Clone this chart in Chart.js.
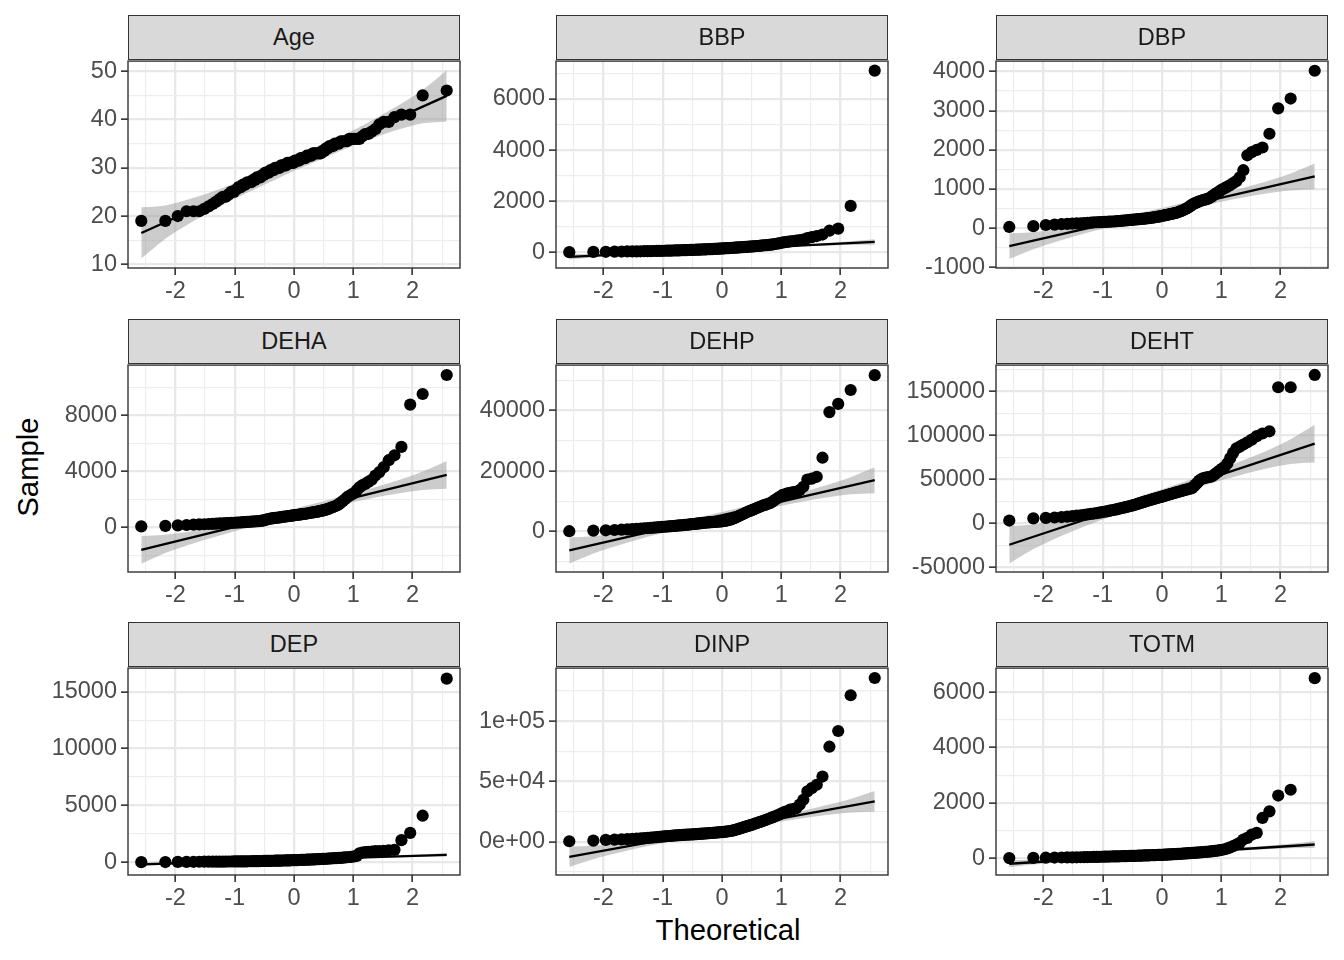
<!DOCTYPE html>
<html>
<head>
<meta charset="utf-8">
<script src="https://cdn.jsdelivr.net/npm/chart.js@4.4.1/dist/chart.umd.min.js"></script>
<style>
  body{margin:0;background:#fff;width:1344px;height:960px;position:relative;overflow:hidden;font-family:"Liberation Sans",Arial,sans-serif}
  canvas{position:absolute}
  .strip{position:absolute;box-sizing:border-box;background:#D9D9D9;border:1.3px solid #333;color:#1A1A1A;font-size:23.5px;text-align:center;line-height:43px;z-index:2}
  .ttl{position:absolute;font-size:29.3px;color:#000;white-space:nowrap}
</style>
</head>
<body>
<div class="ttl" style="left:28px;top:467px;transform:translate(-50%,-50%) rotate(-90deg)">Sample</div>
<div class="ttl" style="left:728px;top:930px;transform:translate(-50%,-50%)">Theoretical</div>
<script>
// ---------- data ----------
const theoretical = [
  -2.576,-2.170,-1.960,-1.812,-1.695,-1.598,-1.514,-1.440,-1.372,-1.311,
  -1.254,-1.200,-1.150,-1.103,-1.058,-1.015,-0.974,-0.935,-0.896,-0.860,
  -0.824,-0.789,-0.755,-0.722,-0.690,-0.659,-0.628,-0.598,-0.568,-0.539,
  -0.510,-0.482,-0.454,-0.426,-0.399,-0.372,-0.345,-0.319,-0.292,-0.266,
  -0.240,-0.215,-0.189,-0.164,-0.138,-0.113,-0.088,-0.063,-0.038,-0.013,
  0.013,0.038,0.063,0.088,0.113,0.138,0.164,0.189,0.215,0.240,
  0.266,0.292,0.319,0.345,0.372,0.399,0.426,0.454,0.482,0.510,
  0.539,0.568,0.598,0.628,0.659,0.690,0.722,0.755,0.789,0.824,
  0.860,0.896,0.935,0.974,1.015,1.058,1.103,1.150,1.200,1.254,
  1.311,1.372,1.440,1.514,1.598,1.695,1.812,1.960,2.170,2.576];
const bandX = [-2.576,-2.17,-1.96,-1.5,-1,-0.5,0,0.5,1,1.5,1.96,2.17,2.576];
const xTicks = [-2,-1,0,1,2];
const xMinor = [-2.5,-1.5,-0.5,0.5,1.5,2.5];

const ageSample = [
  19,19,20,21,21,21,21.5,22,22.5,23,
  23.5,24,24,24.5,25,25,25.5,26,26,26.5,
  26.5,27,27,27,27.5,27.5,28,28,28,28.5,
  28.5,29,29,29,29.5,29.5,29.5,30,30,30,
  30,30.5,30.5,30.5,30.5,31,31,31,31,31,
  31.5,31.5,31.5,31.5,32,32,32,32,32.5,32.5,
  32.5,32.5,33,33,33,33,33,33,33.5,33.5,
  34,34,34.5,34.5,34.5,35,35,35,35.5,35.5,
  35.5,35.5,36,36,36,36,36,36.5,37,37,
  37.5,38,39,39.5,39.5,40.5,41,41,45,46];
const ageLower = [11.2,15.3,17.0,20.4,23.6,26.5,29.4,32.0,34.6,36.9,38.6,39.2,39.6];
const ageUpper = [21.8,22.2,22.8,24.5,26.8,29.4,32.1,34.9,37.8,41.1,44.4,46.1,50.2];
const ageLine = [16.5,44.9];
const ageTicks = [10,20,30,40,50];
const ageMinor = [15,25,35,45];
const ageRange = [9.24,52.1];

const bbpSample = [
  10,20,25,30,35,38,40,42,45,48,
  50,52,55,58,60,62,65,68,70,72,
  75,78,80,82,85,88,90,92,95,98,
  100,102,105,108,110,112,115,118,120,122,
  125,128,130,133,136,140,143,146,150,153,
  156,160,163,166,170,174,178,182,186,190,
  194,198,202,206,210,215,220,225,230,235,
  240,246,252,258,265,272,280,288,296,305,
  315,330,345,360,380,400,415,430,445,460,
  480,500,560,600,640,700,850,930,1820,7110];
const bbpLower = [-278,-195,-160,-91,-26,35,93,148,200,247,283,294,303];
const bbpUpper = [-62,-53,-42,-6,41,93,148,206,267,332,401,436,519];
const bbpLine = [-170,411];
const bbpTicks = [0,2000,4000,6000];
const bbpMinor = [1000,3000,5000,7000];
const bbpRange = [-609,7482];

const dbpSample = [
  30,50,80,90,100,110,115,120,125,130,
  135,140,145,150,152,155,158,160,165,168,
  170,175,178,182,185,190,195,200,205,210,
  212,216,220,224,228,232,236,240,244,248,
  252,258,264,270,276,282,288,294,300,308,
  316,324,332,340,348,356,365,374,383,392,
  405,420,436,452,470,490,512,540,570,600,
  625,645,665,685,700,715,728,742,760,790,
  830,870,910,950,990,1020,1060,1100,1150,1200,
  1300,1480,1860,1940,2000,2060,2410,3060,3310,4020];
const dbpLower = [-790,-536,-428,-219,-17,169,346,515,675,819,928,964,992];
const dbpUpper = [-130,-102,-66,44,187,347,516,693,879,1080,1290,1398,1651];
const dbpLine = [-459,1322];
const dbpTicks = [-1000,0,1000,2000,3000,4000];
const dbpMinor = [-500,500,1500,2500,3500];
const dbpRange = [-1018,4266];

const dehaSample = [
  60,100,130,160,180,200,215,230,245,260,
  270,280,290,300,310,320,330,340,350,360,
  370,380,390,400,410,420,430,440,455,470,
  490,520,560,590,610,630,650,665,680,695,
  710,725,740,755,770,785,800,815,830,845,
  860,875,890,905,920,935,950,965,980,1000,
  1020,1040,1060,1080,1100,1120,1140,1165,1190,1220,
  1260,1300,1350,1400,1450,1500,1560,1640,1760,1880,
  2000,2150,2250,2350,2450,2650,2850,3000,3100,3250,
  3400,3700,3950,4300,4800,5150,5750,8780,9540,10900];
const dehaLower = [-2609,-1846,-1517,-888,-281,280,812,1321,1801,2236,2563,2672,2755];
const dehaUpper = [-619,-536,-427,-100,335,816,1324,1857,2417,3024,3653,3982,4745];
const dehaLine = [-1614,3750];
const dehaTicks = [0,4000,8000];
const dehaMinor = [-2000,2000,6000,10000];
const dehaRange = [-3205,11608];

const dehpSample = [
  100,300,400,500,600,700,800,900,1000,1080,
  1150,1220,1300,1380,1450,1520,1580,1640,1700,1760,
  1820,1880,1940,2000,2060,2120,2180,2240,2300,2360,
  2420,2480,2540,2600,2660,2720,2780,2840,2900,2960,
  3000,3040,3080,3120,3160,3200,3240,3280,3320,3360,
  3420,3500,3600,3700,3800,3950,4100,4300,4500,4700,
  4950,5200,5450,5700,5950,6200,6450,6700,6900,7100,
  7350,7600,7850,8100,8350,8600,8800,9000,9250,9500,
  10000,10500,11000,11500,12000,12300,12600,12800,13000,13100,
  13700,14800,17200,17500,18100,24400,39500,42200,46800,51700];
const dehpLower = [-10561,-7255,-5836,-3104,-480,1949,4253,6457,8536,10420,11836,12309,12665];
const dehpUpper = [-1941,-1585,-1112,304,2188,4267,6471,8775,11204,13828,16560,17979,21285];
const dehpLine = [-6250,16974];
const dehpTicks = [0,20000,40000];
const dehpMinor = [-10000,10000,30000,50000];
const dehpRange = [-13390,55030];

const dehtSample = [
  3000,5500,6000,6500,7000,7500,8000,8500,9000,9500,
  10000,10500,11000,11500,12000,12500,13000,13500,14000,14500,
  15000,15500,16000,16500,17000,17500,18000,18500,19000,19500,
  20000,20500,21000,21600,22200,22800,23400,24000,24500,25000,
  25500,26100,26600,27100,27600,28100,28600,29000,29500,30000,
  30500,31000,31500,32000,32500,33000,33500,34000,34500,35000,
  35500,36000,36500,37000,37500,38000,38500,39000,39500,40000,
  42000,44000,46000,48500,50000,51000,51500,52000,52500,53000,
  54000,56000,58000,60000,62000,64000,68000,74000,80000,85000,
  87000,89500,92000,95000,99000,102000,104500,154600,154600,168600];
const dehtLower = [-45840,-29480,-22450,-8920,4070,16100,27510,38420,48710,58040,65050,67400,69160];
const dehtUpper = [-3160,-1400,950,7960,17290,27580,38490,49900,61930,74920,88450,95480,111840];
const dehtLine = [-24500,90500];
const dehtTicks = [-50000,0,50000,100000,150000];
const dehtMinor = [-25000,25000,75000,125000,175000];
const dehtRange = [-55500,179800];

const depSample = [
  20,30,40,45,50,55,58,60,62,65,
  68,70,72,75,78,80,82,85,88,90,
  92,95,98,100,103,106,110,113,116,120,
  123,126,130,133,136,140,143,146,150,153,
  156,160,163,166,170,174,178,182,186,190,
  195,200,205,210,215,220,225,230,236,242,
  248,254,260,266,272,280,288,296,304,312,
  320,330,340,350,360,370,380,390,400,415,
  430,450,470,490,520,560,800,850,900,920,
  950,980,1000,1020,1050,1100,1950,2590,4100,16140];
const depLower = [-331,-212,-160,-61,34,122,205,285,360,428,480,496,509];
const depUpper = [-19,-6,10,62,130,205,285,368,456,551,650,702,821];
const depLine = [-175,665];
const depTicks = [0,5000,10000,15000];
const depMinor = [2500,7500,12500];
const depRange = [-1110,17070];

const dinpSample = [
  500,1000,1650,1900,2100,2300,2500,2700,2900,3100,
  3300,3500,3700,3900,4100,4400,4550,4700,4850,5000,
  5150,5300,5450,5550,5650,5750,5850,5950,6050,6100,
  6150,6250,6350,6450,6550,6650,6750,6850,6950,7050,
  7150,7250,7350,7450,7550,7650,7750,7850,7950,8050,
  8150,8300,8450,8600,8800,9000,9200,9500,9800,10200,
  10600,11000,11400,11800,12200,12600,13000,13400,13900,14300,
  14800,15300,15800,16300,16800,17300,17900,18500,19100,19800,
  20500,21200,22000,22800,23900,24800,25300,26700,27100,28000,
  30800,34900,41800,44500,47300,54100,78800,91800,121400,135700];
const dinpLower = [-20874,-14343,-11540,-6143,-958,3843,8394,12750,16856,20579,23376,24313,25014];
const dinpUpper = [-3844,-3143,-2206,591,4314,8421,12776,17328,22128,27313,32710,35513,42044];
const dinpLine = [-12360,33530];
const dinpTicks = [0,50000,100000];
const dinpTickLabels = ['0e+00','5e+04','1e+05'];
const dinpMinor = [-25000,25000,75000,125000];
const dinpRange = [-27430,143900];

const totmSample = [
  10,20,25,30,32,35,38,40,42,45,
  48,50,52,55,57,60,62,64,66,68,
  70,72,74,76,78,80,82,84,86,88,
  90,92,94,96,98,100,102,104,106,108,
  110,112,114,116,118,120,122,124,126,128,
  130,133,136,139,142,145,148,151,154,157,
  160,164,168,172,176,180,184,188,192,196,
  200,205,210,215,220,226,232,238,245,252,
  260,270,280,295,310,330,360,400,440,500,
  560,680,740,860,920,1460,1700,2270,2480,6510];
const totmLower = [-322,-223,-181,-99,-20,53,122,188,250,307,349,363,374];
const totmUpper = [-64,-53,-39,3,60,123,188,258,330,409,491,533,632];
const totmLine = [-193,502];
const totmTicks = [0,2000,4000,6000];
const totmMinor = [1000,3000,5000];
const totmRange = [-600,6873];

const panels = [
  {name:'Age',  sample:ageSample,  lo:ageLower,  hi:ageUpper,  line:ageLine,  ticks:ageTicks,  minor:ageMinor,  range:ageRange},
  {name:'BBP',  sample:bbpSample,  lo:bbpLower,  hi:bbpUpper,  line:bbpLine,  ticks:bbpTicks,  minor:bbpMinor,  range:bbpRange},
  {name:'DBP',  sample:dbpSample,  lo:dbpLower,  hi:dbpUpper,  line:dbpLine,  ticks:dbpTicks,  minor:dbpMinor,  range:dbpRange},
  {name:'DEHA', sample:dehaSample, lo:dehaLower, hi:dehaUpper, line:dehaLine, ticks:dehaTicks, minor:dehaMinor, range:dehaRange},
  {name:'DEHP', sample:dehpSample, lo:dehpLower, hi:dehpUpper, line:dehpLine, ticks:dehpTicks, minor:dehpMinor, range:dehpRange},
  {name:'DEHT', sample:dehtSample, lo:dehtLower, hi:dehtUpper, line:dehtLine, ticks:dehtTicks, minor:dehtMinor, range:dehtRange},
  {name:'DEP',  sample:depSample,  lo:depLower,  hi:depUpper,  line:depLine,  ticks:depTicks,  minor:depMinor,  range:depRange},
  {name:'DINP', sample:dinpSample, lo:dinpLower, hi:dinpUpper, line:dinpLine, ticks:dinpTicks, minor:dinpMinor, range:dinpRange, labels:dinpTickLabels},
  {name:'TOTM', sample:totmSample, lo:totmLower, hi:totmUpper, line:totmLine, ticks:totmTicks, minor:totmMinor, range:totmRange}
];

// ---------- layout ----------
const COLS = [128,556,996], ROWS = [15,319,622];
const PW = 332, PH = 209, STRIP_H = 44;
const YW = 128, XH = 45, PT = 16, PR = 10;
const TICK_FONT = {family:'"Liberation Sans", Arial, sans-serif', size:23.5};

const panelBorder = {
  id:'panelBorder',
  afterDraw(ch){
    const a = ch.chartArea, c = ch.ctx;
    c.save(); c.strokeStyle = '#333'; c.lineWidth = 1.4;
    c.strokeRect(a.left, a.top, a.right-a.left, a.bottom-a.top);
    c.restore();
  }
};

function gridOpts(major){
  return {
    drawOnChartArea:true, drawTicks:true, tickLength:7,
    color: c => major.includes(c.tick.value) ? '#E8E8E8' : '#EDEDED',
    lineWidth: c => major.includes(c.tick.value) ? 2.3 : 1.2,
    tickColor: c => major.includes(c.tick.value) ? '#333' : 'rgba(0,0,0,0)',
    tickWidth: 1.6
  };
}

panels.forEach((p,k)=>{
  const r = Math.floor(k/3), col = k%3;
  const left = COLS[col], top = ROWS[r] + STRIP_H;

  const strip = document.createElement('div');
  strip.className = 'strip';
  strip.style.left = left+'px'; strip.style.top = ROWS[r]+'px';
  strip.style.width = PW+'px'; strip.style.height = (STRIP_H+1)+'px';
  strip.textContent = p.name;
  document.body.appendChild(strip);

  const cv = document.createElement('canvas');
  const cw = YW+PW+PR, chh = PT+PH+XH;
  cv.width = cw; cv.height = chh;
  cv.style.left = (left-YW)+'px'; cv.style.top = (top-PT)+'px';
  cv.style.width = cw+'px'; cv.style.height = chh+'px';
  document.body.appendChild(cv);

  const xAll = xTicks.concat(xMinor).sort((a,b)=>a-b);
  const yAll = p.ticks.concat(p.minor).sort((a,b)=>a-b);

  new Chart(cv, {
    type:'scatter',
    data:{datasets:[
      {data: theoretical.map((x,i)=>({x, y:p.sample[i]})), pointRadius:6.1, pointBackgroundColor:'#000', pointBorderWidth:0, showLine:false},
      {type:'line', data:[{x:theoretical[0], y:p.line[0]},{x:theoretical[theoretical.length-1], y:p.line[1]}],
        borderColor:'#000', borderWidth:2.3, pointRadius:0, fill:false},
      {type:'line', data: bandX.map((x,i)=>({x, y:p.lo[i]})), borderColor:'rgba(0,0,0,0)', borderWidth:0, pointRadius:0, fill:false, cubicInterpolationMode:'monotone'},
      {type:'line', data: bandX.map((x,i)=>({x, y:p.hi[i]})), borderColor:'rgba(0,0,0,0)', borderWidth:0, pointRadius:0, fill:'-1',
        backgroundColor:'rgba(153,153,153,0.5)', cubicInterpolationMode:'monotone'}
    ]},
    options:{
      responsive:false, animation:false, events:[],
      layout:{padding:{top:PT, right:PR, left:0, bottom:0}},
      plugins:{legend:{display:false}, tooltip:{enabled:false}},
      scales:{
        x:{
          type:'linear', min:-2.8, max:2.8,
          afterBuildTicks: s => { s.ticks = xAll.map(v=>({value:v})); },
          afterFit: s => { s.height = XH; },
          grid: gridOpts(xTicks), border:{display:false},
          ticks:{autoSkip:false, maxRotation:0, padding:2, font:TICK_FONT, color:'#4D4D4D',
            callback: v => xTicks.includes(v) ? String(v) : ''}
        },
        y:{
          type:'linear', min:p.range[0], max:p.range[1],
          afterBuildTicks: s => { s.ticks = yAll.map(v=>({value:v})); },
          afterFit: s => { s.width = YW; },
          grid: gridOpts(p.ticks), border:{display:false},
          ticks:{autoSkip:false, padding:4, font:TICK_FONT, color:'#4D4D4D',
            callback: v => {
              const i = p.ticks.indexOf(v);
              if(i < 0) return '';
              return p.labels ? p.labels[i] : String(v);
            }}
        }
      }
    },
    plugins:[panelBorder]
  });
});
</script>
</body>
</html>
